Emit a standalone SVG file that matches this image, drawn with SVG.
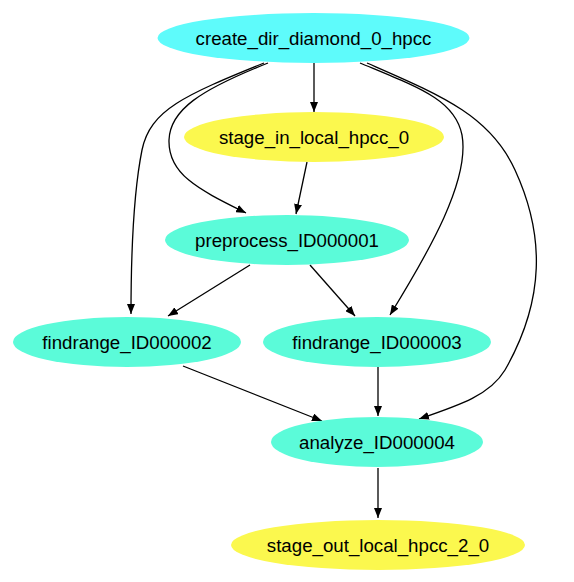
<svg xmlns="http://www.w3.org/2000/svg" width="574" height="582" viewBox="0 0 574 582">
<defs>
<marker id="ah" viewBox="0 0 10 8" refX="10" refY="4" markerWidth="10" markerHeight="8" markerUnits="userSpaceOnUse" orient="auto">
<path d="M0,0 L10,4 L0,8 Z" fill="#000"/>
</marker>
</defs>
<style>
.cy{fill:#5efbfb}
.ye{fill:#fbf84e}
.aq{fill:#5bfbd9}
text{font-family:"Liberation Sans",Arial,Helvetica,sans-serif;font-size:18.7px;fill:#000;text-anchor:middle}
.e path{fill:none;stroke:#000;stroke-width:1.3;marker-end:url(#ah)}
</style>
<rect width="574" height="582" fill="#fff"/>
<g class="e" id="connectors">
<path d="M314,63 L314,112"/>
<path d="M268,63 C200,90 170,110 169,140 C168,175 200,190 246,213"/>
<path d="M264,63 C185,95 150,110 142,150 C134,190 131,250 131,314"/>
<path d="M360,63 C420,88 455,100 462,135 C470,180 430,250 390,315"/>
<path d="M367,63 C440,95 490,115 515,170 C545,235 545,300 505,370 C490,395 460,405 419,419"/>
<path d="M307,162 L296,214"/>
<path d="M250,265 L168,316"/>
<path d="M310,265 L355,316"/>
<path d="M183,366 L322,421"/>
<path d="M378,367 L378,416"/>
<path d="M378,468 L378,518"/>
</g>
<g id="create_dir_diamond_0_hpcc"><ellipse class="cy" cx="313.5" cy="38" rx="156" ry="25"/><text x="313.5" y="45">create_dir_diamond_0_hpcc</text></g>
<g id="stage_in_local_hpcc_0"><ellipse class="ye" cx="314" cy="137" rx="130" ry="25"/><text x="314" y="144">stage_in_local_hpcc_0</text></g>
<g id="preprocess_ID000001"><ellipse class="aq" cx="287" cy="240" rx="122" ry="25"/><text x="287" y="247">preprocess_ID000001</text></g>
<g id="findrange_ID000002"><ellipse class="aq" cx="127" cy="342" rx="114" ry="25"/><text x="127" y="349">findrange_ID000002</text></g>
<g id="findrange_ID000003"><ellipse class="aq" cx="377" cy="342" rx="114" ry="25"/><text x="377" y="349">findrange_ID000003</text></g>
<g id="analyze_ID000004"><ellipse class="aq" cx="377" cy="442" rx="106" ry="25"/><text x="377" y="449">analyze_ID000004</text></g>
<g id="stage_out_local_hpcc_2_0"><ellipse class="ye" cx="378" cy="545" rx="147" ry="25"/><text x="378" y="552">stage_out_local_hpcc_2_0</text></g>
</svg>
